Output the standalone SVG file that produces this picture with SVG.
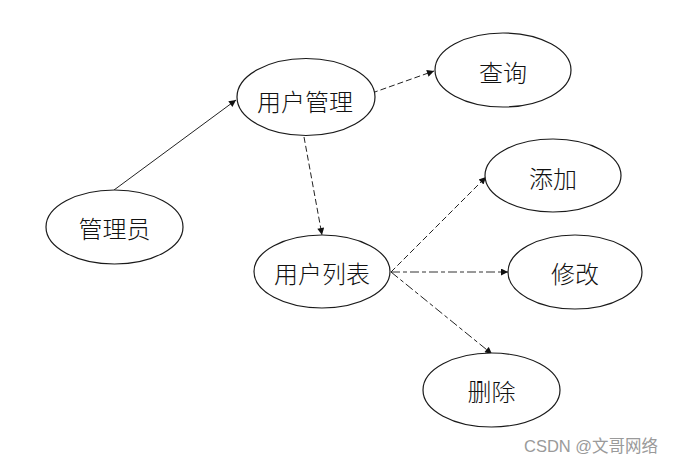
<svg xmlns="http://www.w3.org/2000/svg" width="676" height="464" viewBox="0 0 676 464">
<style>
.n ellipse{fill:#fff;stroke:#1a1a1a;stroke-width:1.2}
.n text{font-family:"Noto Sans CJK SC","Microsoft YaHei",sans-serif;font-size:24px;font-weight:300;fill:#111;text-anchor:middle;dominant-baseline:central}
.c line{stroke:#222;stroke-width:1;fill:none}
.d{stroke-dasharray:6,3}
.dd{stroke-dasharray:9,3,4,3}
.wm{font-family:"Liberation Sans","Noto Sans CJK SC",sans-serif;font-size:16.5px;fill:#9a9a9a}
</style>
<defs>
<marker id="a" viewBox="0 0 10 10" refX="10" refY="5" markerWidth="9" markerHeight="7" markerUnits="userSpaceOnUse" orient="auto">
<path d="M0,0 L10,5 L0,10 Z" fill="#111"/>
</marker>
</defs>
<rect width="676" height="464" fill="#fff"/>
<g id="connectors" class="c">
<line x1="114" y1="190" x2="236" y2="100" marker-end="url(#a)"/>
<line class="d" x1="372" y1="93" x2="434" y2="71" marker-end="url(#a)"/>
<line class="d" x1="304" y1="137" x2="322" y2="235" marker-end="url(#a)"/>
<line class="d" x1="391" y1="272" x2="486" y2="177" marker-end="url(#a)"/>
<line class="dd" x1="391" y1="272" x2="508" y2="272" stroke-width="1.6" style="stroke:#333" marker-end="url(#a)"/>
<line class="dd" x1="391" y1="272" x2="492" y2="354" marker-end="url(#a)"/>
</g>
<g id="admin" class="n"><ellipse cx="114.5" cy="227" rx="68.5" ry="37"/><text x="114.5" y="227">管理员</text></g>
<g id="usermgmt" class="n"><ellipse cx="306" cy="97" rx="69" ry="38.5"/><text x="305" y="100">用户管理</text></g>
<g id="query" class="n"><ellipse cx="503" cy="70" rx="68" ry="37"/><text x="503" y="71">查询</text></g>
<g id="add" class="n"><ellipse cx="553" cy="175.5" rx="68" ry="36.5"/><text x="553" y="177">添加</text></g>
<g id="userlist" class="n"><ellipse cx="322" cy="271.5" rx="68" ry="36.5"/><text x="322" y="272">用户列表</text></g>
<g id="edit" class="n"><ellipse cx="575" cy="272" rx="67" ry="37"/><text x="575" y="272">修改</text></g>
<g id="delete" class="n"><ellipse cx="491.5" cy="390" rx="68.5" ry="37"/><text x="491.5" y="390">删除</text></g>
<text class="wm" x="524" y="452">CSDN @文哥网络</text>
</svg>
